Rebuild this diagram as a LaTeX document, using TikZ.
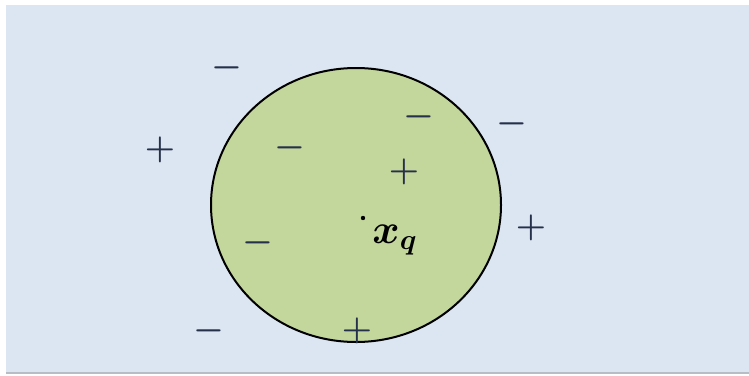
\documentclass[tikz,border=0pt]{standalone}
\usepackage{amsmath,bm}
\usepackage{tikz}
\usetikzlibrary{calc,positioning}
\definecolor{paneblue}{HTML}{DCE6F2}
\definecolor{ballgreen}{HTML}{C3D69B}
\definecolor{signink}{HTML}{25304A}
\definecolor{rimgray}{HTML}{B8BCC4}

\tikzset{
  charge/.style={text=signink,inner sep=0pt,font=\fontsize{16.5}{16.5}\selectfont\boldmath},
}

\begin{document}
\begin{tikzpicture}[x=0.5pt,y=-0.5pt]
\useasboundingbox (0,0) rectangle (749,375);
\fill[white] (0,0) rectangle (749,375);
\fill[paneblue] (6,5) rectangle (749,372);
\draw[rimgray,line width=1pt] (6,373) -- (749,373);
% the neighbourhood
\draw[fill=ballgreen,line width=1pt] (356,205) ellipse [x radius=145,y radius=137];
% charges outside
\node[charge] (m1) at (227,68) {$-$};
\node[charge] (p1) at (160,150) {$+$};
\node[charge] (m2) at (512,124) {$-$};
\node[charge] (p2) at (531,228) {$+$};
\node[charge] (m3) at (209,331) {$-$};
% charges inside
\node[charge] (m4) at (290,148) {$-$};
\node[charge] (m5) at (419,117) {$-$};
\node[charge] (p3) at (404,172) {$+$};
\node[charge] (m6) at (258,243) {$-$};
\node[charge] (p4) at (357,331) {$+$};
% query point
\fill[black] (363,218) circle (2.2);
\node[inner sep=0pt,font=\fontsize{22}{22}\selectfont] (xq) at (395,240) {$\bm{x}_{\bm{q}}$};
\end{tikzpicture}
\end{document}
